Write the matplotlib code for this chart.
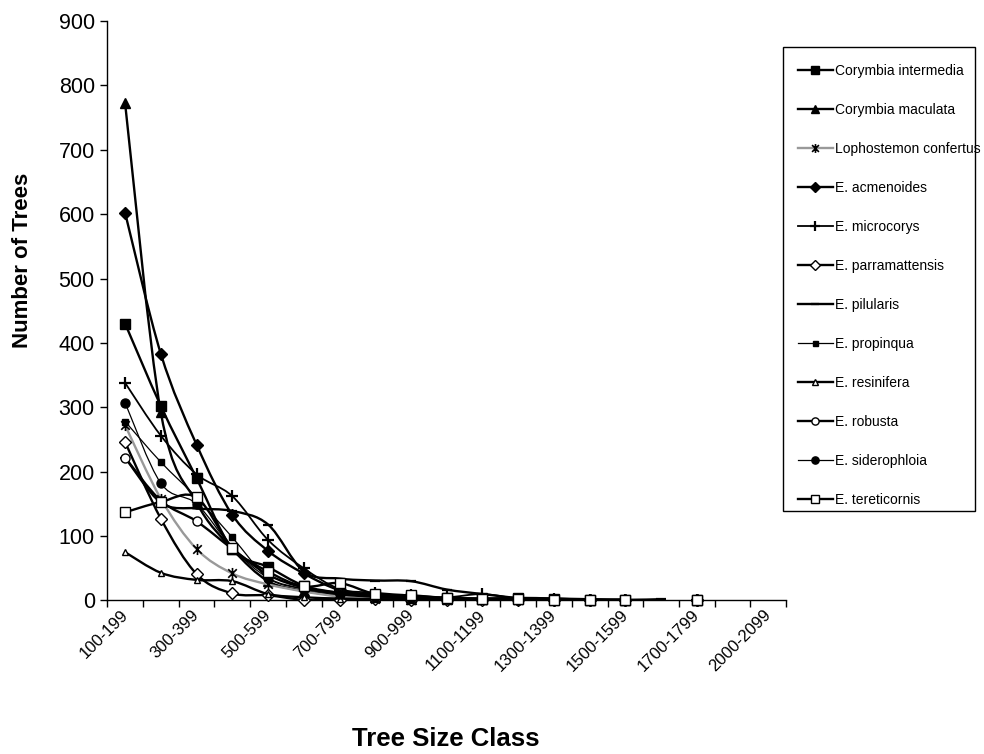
import numpy as np
import matplotlib
matplotlib.use('Agg')
import matplotlib.pyplot as plt
import matplotlib.transforms as mtransforms
from matplotlib.path import Path
from matplotlib.patches import PathPatch, Rectangle
from matplotlib.lines import Line2D

plt.rcParams['font.family'] = ['Liberation Sans', 'DejaVu Sans']

nan = np.nan

# size classes on the category axis (1900-1999 is not in the data)
size_classes = ['100-199', '200-299', '300-399', '400-499', '500-599', '600-699',
                '700-799', '800-899', '900-999', '1000-1099', '1100-1199', '1200-1299',
                '1300-1399', '1400-1499', '1500-1599', '1600-1699', '1700-1799',
                '1800-1899', '2000-2099']

# number of trees per size class (nan = no value)
corymbia_intermedia = [430, 302, 190, 80, 52, 23, 12, 8, 5, 4, 3, 4, 3, 1, 1, nan, 1, nan, nan]
corymbia_maculata = [772, 292, 152, 80, 30, 15, 8, 5, 3, 2, 2, 2, 1, 1, 0, nan, 0, nan, nan]
lophostemon_confertus = [272, 158, 80, 42, 25, 14, 6, 2, 0, 0, 0, 0, 0, 0, 0, nan, 0, nan, nan]
e_acmenoides = [602, 383, 242, 133, 77, 42, 16, 9, 5, 3, 2, 2, 1, 1, 1, nan, 0, nan, nan]
e_microcorys = [338, 256, 196, 162, 94, 50, 18, 12, 8, 5, 10, 3, 2, 1, 1, nan, 1, nan, nan]
e_parramattensis = [246, 127, 41, 11, 8, 1, 1, 2, 1, 0, 0, 0, 0, 0, 0, nan, 0, nan, nan]
e_pilularis = [222, 152, 143, 139, 118, 45, 34, 31, 30, 17, 10, 4, 3, 2, 1, 2, nan, nan, nan]
e_propinqua = [278, 215, 160, 98, 35, 18, 10, 6, 4, 3, 2, 1, 1, 1, 0, nan, 0, nan, nan]
e_resinifera = [75, 43, 32, 30, 10, 5, 3, 2, 1, 1, 1, 0, 0, 0, 0, nan, 0, nan, nan]
e_robusta = [222, 155, 123, 80, 40, 20, 12, 7, 5, 3, 2, 1, 1, 0, 0, nan, 0, nan, nan]
e_siderophloia = [307, 182, 150, 82, 35, 18, 10, 6, 4, 3, 2, 1, 1, 1, 0, nan, 0, nan, nan]
e_tereticornis = [137, 153, 160, 82, 45, 22, 27, 10, 8, 4, 3, 2, 1, 1, 1, nan, 1, nan, nan]

# asterisk marker like the spreadsheet one
star = Path([(-1, -1), (1, 1), (-1, 1), (1, -1), (0, -1.3), (0, 1.3)],
            [Path.MOVETO, Path.LINETO, Path.MOVETO, Path.LINETO, Path.MOVETO, Path.LINETO])

# name, values, marker, marker size, face colour, line width, line colour
series = [
    ('Corymbia intermedia', corymbia_intermedia, 's', 7, 'black', 1.7, 'black'),
    ('Corymbia maculata', corymbia_maculata, '^', 7.5, 'black', 1.7, 'black'),
    ('Lophostemon confertus', lophostemon_confertus, star, 8, 'none', 1.7, '#999999'),
    ('E. acmenoides', e_acmenoides, 'D', 6, 'black', 1.7, 'black'),
    ('E. microcorys', e_microcorys, '+', 9, 'black', 1.3, 'black'),
    ('E. parramattensis', e_parramattensis, 'D', 6, 'white', 1.7, 'black'),
    ('E. pilularis', e_pilularis, '_', 7, 'black', 1.7, 'black'),
    ('E. propinqua', e_propinqua, 's', 4.5, 'black', 0.9, 'black'),
    ('E. resinifera', e_resinifera, '^', 5, 'white', 1.7, 'black'),
    ('E. robusta', e_robusta, 'o', 6.5, 'white', 1.7, 'black'),
    ('E. siderophloia', e_siderophloia, 'o', 6.5, 'black', 0.9, 'black'),
    ('E. tereticornis', e_tereticornis, 's', 6.5, 'white', 1.7, 'black'),
]


def smooth_path(xs, ys):
    # bezier through the points, the way spreadsheet "smoothed line" does it
    pts = np.column_stack([xs, ys])
    verts = [pts[0]]
    codes = [Path.MOVETO]
    n = len(pts)
    for i in range(n - 1):
        p0 = pts[max(i - 1, 0)]
        p1 = pts[i]
        p2 = pts[i + 1]
        p3 = pts[min(i + 2, n - 1)]
        verts += [p1 + (p2 - p0) / 6.0, p2 - (p3 - p1) / 6.0, p2]
        codes += [Path.CURVE4] * 3
    return Path(verts, codes)


fig = plt.figure(figsize=(9.84, 7.54), dpi=100)
ax = fig.add_axes([0.109, 0.2036, 0.690, 0.7685])

x = np.arange(len(size_classes)) + 0.5
handles = []
z = 2
for name, vals, mk, ms, fc, lw, col in series:
    y = np.array(vals, dtype=float)
    ok = ~np.isnan(y)
    # split into runs without gaps
    start = None
    for i in range(len(y) + 1):
        if i < len(y) and ok[i]:
            if start is None:
                start = i
        elif start is not None:
            if i - start > 1:
                p = smooth_path(x[start:i], y[start:i])
                ax.add_patch(PathPatch(p, fill=False, edgecolor=col, lw=lw, zorder=z))
            start = None
    mew = 1.6 if mk in ('+', '_') else 1.0
    if mk is star:
        mew = 1.2
    ax.plot(x[ok], y[ok], linestyle='none', marker=mk, markersize=ms,
            markerfacecolor=fc, markeredgecolor='black', markeredgewidth=mew,
            zorder=z + 0.5, clip_on=False)
    handles.append(Line2D([], [], color=col, lw=lw, marker=mk, markersize=ms * 0.8,
                          markerfacecolor=fc, markeredgecolor='black',
                          markeredgewidth=mew, label=name))
    z += 1

ax.set_xlim(0, len(size_classes))
ax.set_ylim(0, 900)
ax.set_yticks(np.arange(0, 901, 100))
ax.tick_params(axis='y', labelsize=15.5, length=5, width=1, direction='out', pad=4)

# ticks on category boundaries, labels on every other category centre
ax.set_xticks(np.arange(0, len(size_classes) + 1))
ax.set_xticklabels([])
ax.tick_params(axis='x', which='major', length=5, width=1, direction='out')
ax.set_xticks(x[::2], minor=True)
ax.set_xticklabels(size_classes[::2], minor=True, rotation=45, ha='right', va='top',
                   rotation_mode='anchor', fontsize=12)
ax.tick_params(axis='x', which='minor', length=0, pad=5)
shift = mtransforms.ScaledTranslation(-5 / 100, 0, fig.dpi_scale_trans)
for lab in ax.get_xticklabels(minor=True):
    lab.set_transform(lab.get_transform() + shift)

for s in ['top', 'right']:
    ax.spines[s].set_visible(False)
for s in ['left', 'bottom']:
    ax.spines[s].set_linewidth(1)
    ax.spines[s].set_color('black')

fig.text(23 / 984, 1 - 260 / 754, 'Number of Trees', rotation=90, fontsize=16,
         fontweight='bold', ha='center', va='center')
fig.text(446 / 984, 1 - 739 / 754, 'Tree Size Class', fontsize=18.5,
         fontweight='bold', ha='center', va='center')

# legend box
fig.add_artist(Rectangle((783 / 984, 1 - 511 / 754), 192 / 984, 464 / 754,
                         transform=fig.transFigure, fill=False, ec='black', lw=1))
fig.legend(handles=handles, loc='upper left', bbox_to_anchor=(798 / 984, 1 - 64 / 754),
           frameon=False, fontsize=10, borderpad=0, borderaxespad=0,
           labelspacing=1.8, handlelength=2.5, handletextpad=0.15)

fig.savefig('out.png', dpi=100)
